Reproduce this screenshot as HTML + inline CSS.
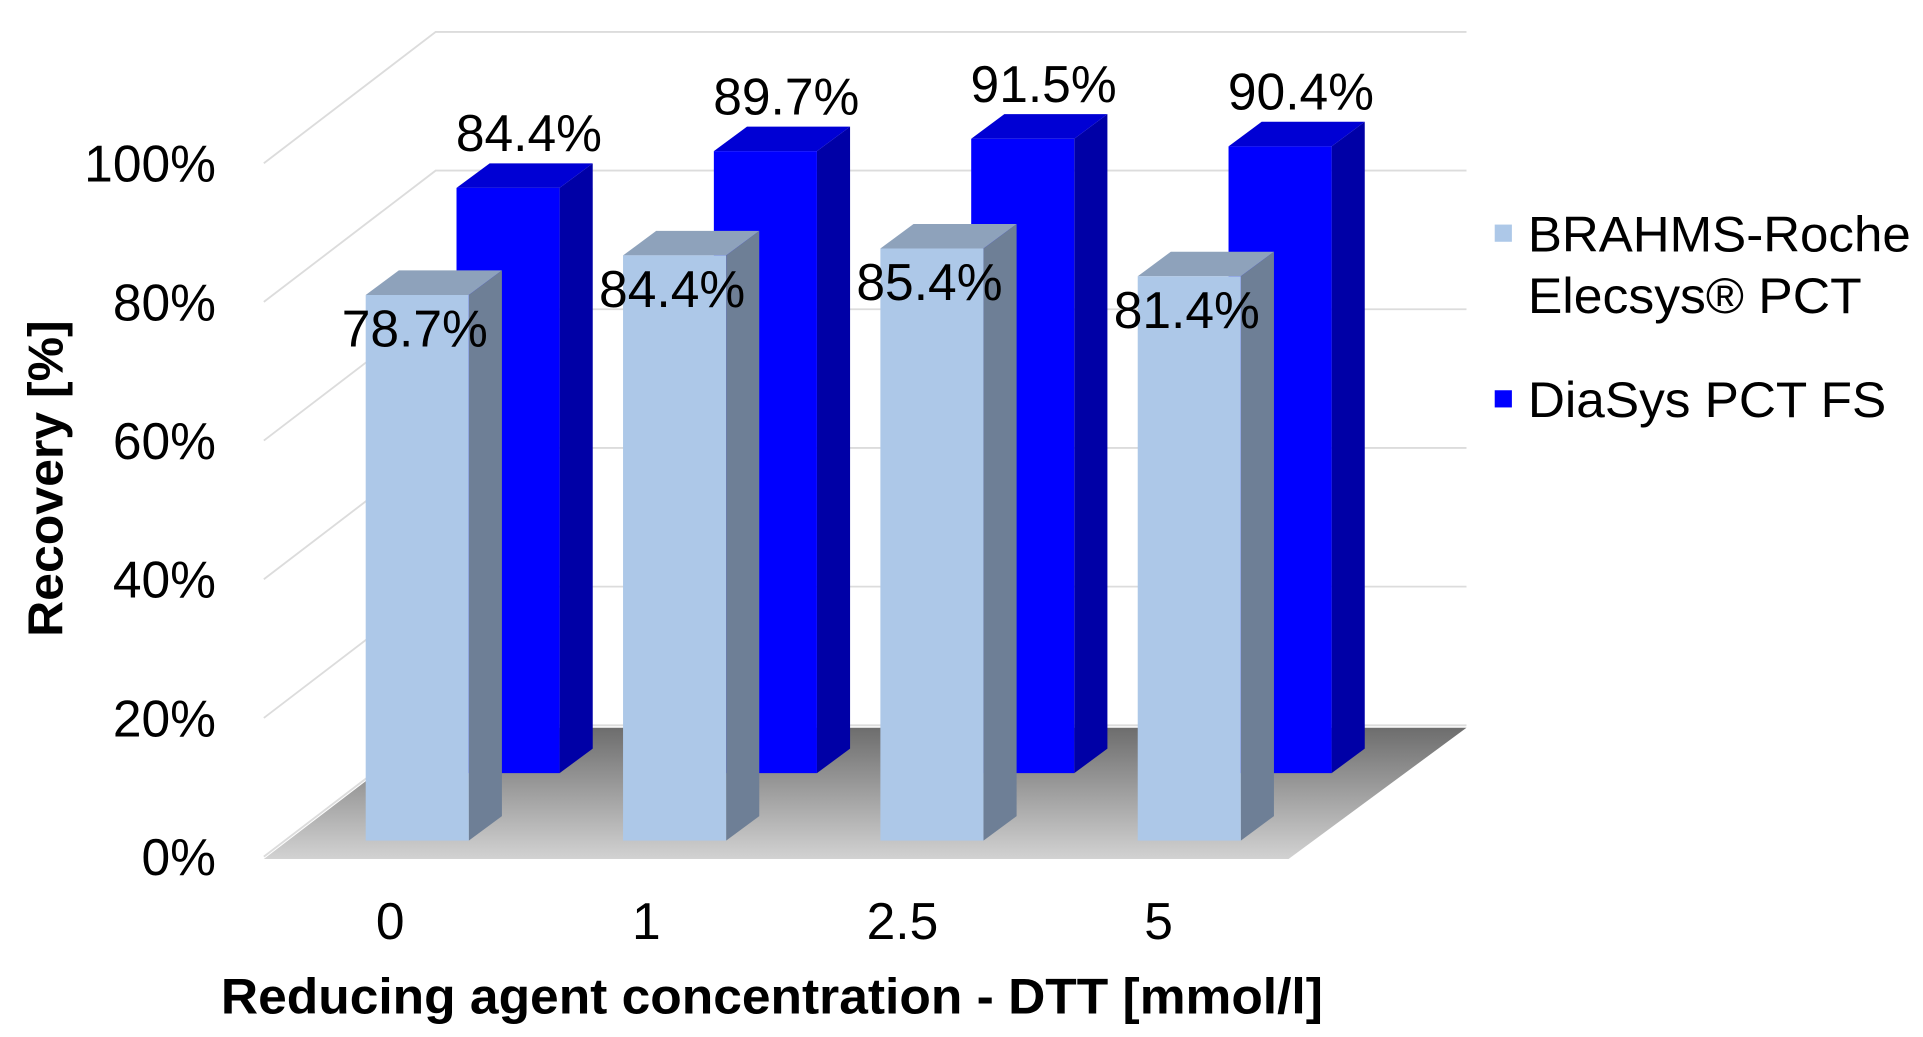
<!DOCTYPE html>
<html><head><meta charset="utf-8">
<style>
html,body{margin:0;padding:0;background:#fff;}
svg{display:block;font-family:"Liberation Sans",Arial,sans-serif;}
</style></head>
<body>
<svg id="chart" width="1923" height="1037" viewBox="0 0 1567 845" preserveAspectRatio="none" xmlns="http://www.w3.org/2000/svg">
<defs>
<linearGradient id="floorGrad" x1="0" y1="0" x2="0" y2="1">
<stop offset="0" stop-color="#6d6d6d"/><stop offset="1" stop-color="#d2d2d2"/>
</linearGradient>
</defs>
<g id="grid"></g>
<polygon points="215,700 1050,700 1195,593 355,593" fill="url(#floorGrad)"/>
<g id="bars"></g>
<g id="labels"></g>
<text transform="translate(51,390) rotate(-90)" text-anchor="middle" font-size="40" font-weight="bold" textLength="258" lengthAdjust="spacingAndGlyphs">Recovery [%]</text>
<text x="629" y="826" text-anchor="middle" font-size="41" font-weight="bold" textLength="898" lengthAdjust="spacingAndGlyphs">Reducing agent concentration - DTT [mmol/l]</text>
<g>
<rect x="1218" y="183" width="14" height="14" fill="#adc8e8"/>
<text x="1245" y="205" font-size="41" textLength="312" lengthAdjust="spacingAndGlyphs">BRAHMS-Roche</text>
<text x="1245" y="255" font-size="41" textLength="272" lengthAdjust="spacingAndGlyphs">Elecsys® PCT</text>
<rect x="1218" y="318" width="14" height="14" fill="#0000ff"/>
<text x="1245" y="340" font-size="41" textLength="292" lengthAdjust="spacingAndGlyphs">DiaSys PCT FS</text>
</g>
</svg>
<script>
const categories = ["0", "1", "2.5", "5"];
const brahmsValues = [78.7, 84.4, 85.4, 81.4];
const diasysValues = [84.4, 89.7, 91.5, 90.4];
const yTicks = [0, 20, 40, 60, 80, 100];

const NS = "http://www.w3.org/2000/svg";
const PX_PER_PCT = 5.65;
const DX = 140, DY = -107;
const FS = 42;
function yFront(v){ return 700 - v * PX_PER_PCT; }
function xCat(i){ return 298 + i * 209.7; }

const grid = document.getElementById('grid');
const bars = document.getElementById('bars');
const labels = document.getElementById('labels');

yTicks.forEach(function(t){
  const yf = yFront(t) - 2;
  const yb = yf + DY;
  const pl = document.createElementNS(NS, 'polyline');
  
  
  pl.setAttribute('points', '215,' + yf + ' ' + (215 + DX) + ',' + yb + ' 1195,' + yb);
  pl.setAttribute('fill', 'none');
  pl.setAttribute('stroke', '#dcdcdc');
  pl.setAttribute('stroke-width', '1.5');
  grid.appendChild(pl);
  const tx = document.createElementNS(NS, 'text');
  
  
  tx.setAttribute('x', 176);
  tx.setAttribute('y', yFront(t) + 13);
  tx.setAttribute('text-anchor', 'end');
  tx.setAttribute('font-size', FS);
  tx.textContent = t + '%';
  labels.appendChild(tx);
});

function poly(points, fill, name){
  const p = document.createElementNS(NS, 'polygon');
  
  
  p.setAttribute('points', points.map(function(q){return q[0] + ',' + q[1];}).join(' '));
  p.setAttribute('fill', fill);
  bars.appendChild(p);
}

function drawBar(x, base, v, cols, name){
  const w = 84, sd = 27, su = -20;
  const top = base - v * PX_PER_PCT;
  poly([[x + w, base], [x + w + sd, base + su], [x + w + sd, top + su], [x + w, top]], cols[1], name + '-side');
  poly([[x, top], [x + w, top], [x + w + sd, top + su], [x + sd, top + su]], cols[2], name + '-top');
  poly([[x, base], [x + w, base], [x + w, top], [x, top]], cols[0], name + '-front');
  return top;
}

function label(x, y, txt, name){
  const t = document.createElementNS(NS, 'text');
  
  
  t.setAttribute('x', x);
  t.setAttribute('y', y);
  t.setAttribute('text-anchor', 'middle');
  t.setAttribute('font-size', FS);
  t.textContent = txt;
  labels.appendChild(t);
}

categories.forEach(function(c, i){
  const x = xCat(i);
  const bt = drawBar(x + 74, 630, diasysValues[i], ['#0000ff', '#0000a6', '#0000d4'], 'bar-diasys-' + i);
  label(x + 74 + 42 + 17, bt - 30, diasysValues[i].toFixed(1) + '%', 'value-label-diasys');
});
categories.forEach(function(c, i){
  const x = xCat(i);
  const lt = drawBar(x, 685, brahmsValues[i], ['#adc8e8', '#6e7f96', '#8ea2bb'], 'bar-brahms-' + i);
  label(x + 40, lt + 42, brahmsValues[i].toFixed(1) + '%', 'value-label-brahms');
  const xl = document.createElementNS(NS, 'text');
  
  
  xl.setAttribute('x', x + 20 - i * 1);
  xl.setAttribute('y', 765);
  xl.setAttribute('text-anchor', 'middle');
  xl.setAttribute('font-size', FS);
  xl.textContent = c;
  labels.appendChild(xl);
});
</script>
</body></html>
